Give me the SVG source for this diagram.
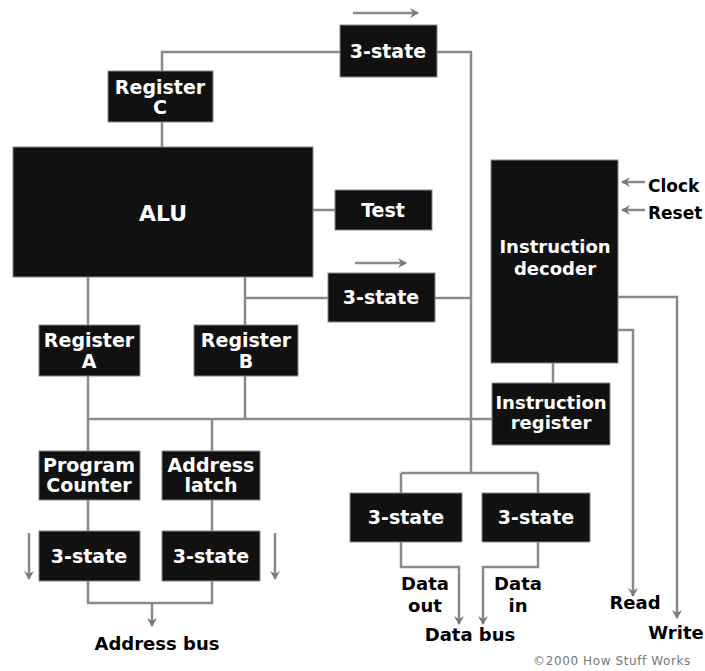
<svg xmlns="http://www.w3.org/2000/svg" width="705" height="671" viewBox="0 0 705 671">
<style>
.box{fill:#111;stroke:#888;stroke-width:1}
.bt{fill:#fff;font-family:"DejaVu Sans","Liberation Sans",Arial,sans-serif;font-weight:bold;font-size:19px;text-anchor:middle}
.lbl{fill:#000;font-family:"DejaVu Sans","Liberation Sans",Arial,sans-serif;font-weight:bold;font-size:18px;text-anchor:middle}
.ln{fill:none;stroke:#8a8a8a;stroke-width:2.5}
.ar{fill:none;stroke:#8a8a8a;stroke-width:2.5;marker-end:url(#ah)}
</style>
<defs>
<marker id="ah" markerUnits="userSpaceOnUse" markerWidth="12" markerHeight="12" refX="9" refY="6" orient="auto">
<path d="M1,1 L10,6 L1,11 L4,6 Z" fill="#7a7a7a"/>
</marker>
</defs>
<rect width="705" height="671" fill="#fff"/>
<g id="connectors">
<path class="ln" d="M162,71 V52 H340"/>
<path class="ln" d="M437,52 H471 V473"/>
<path class="ln" d="M162,122 V147"/>
<path class="ln" d="M313,210 H335"/>
<path class="ln" d="M245,298 H328"/>
<path class="ln" d="M435,298 H471"/>
<path class="ln" d="M88,277 V325"/>
<path class="ln" d="M245,277 V325"/>
<path class="ln" d="M88,376 V451"/>
<path class="ln" d="M245,376 V419"/>
<path class="ln" d="M88,419 H492"/>
<path class="ln" d="M212,419 V451"/>
<path class="ln" d="M88,500 V531"/>
<path class="ln" d="M212,500 V531"/>
<path class="ln" d="M88,581 V603 H212 V581"/>
<path class="ar" d="M152,603 V626"/>
<path class="ar" d="M29,533 V579"/>
<path class="ar" d="M275,533 V579"/>
<path class="ar" d="M353,13 H418"/>
<path class="ar" d="M355,263 H406"/>
<path class="ar" d="M645,182 H622"/>
<path class="ar" d="M645,210 H622"/>
<path class="ar" d="M618,297 H677 V618"/>
<path class="ar" d="M618,330 H633 V596"/>
<path class="ln" d="M553,363 V383"/>
<path class="ln" d="M401,473 H538"/>
<path class="ln" d="M401,473 V493"/>
<path class="ln" d="M538,473 V493"/>
<path class="ar" d="M401,542 V567 H459 V624"/>
<path class="ar" d="M538,542 V567 H483 V624"/>
</g>
<g id="tristate-top"><rect class="box" x="340" y="25" width="97" height="52"/><text class="bt" x="388" y="58">3-state</text></g>
<g id="register-c"><rect class="box" x="108" y="71" width="105" height="51"/><text class="bt" x="160" y="94">Register</text><text class="bt" x="160" y="114">C</text></g>
<g id="alu"><rect class="box" x="13" y="147" width="300" height="130"/><text class="bt" x="163" y="221" style="font-size:22px">ALU</text></g>
<g id="test"><rect class="box" x="335" y="190" width="97" height="40"/><text class="bt" x="383" y="217">Test</text></g>
<g id="tristate-mid"><rect class="box" x="328" y="273" width="107" height="49"/><text class="bt" x="381" y="304">3-state</text></g>
<g id="register-a"><rect class="box" x="39" y="325" width="101" height="51"/><text class="bt" x="89" y="347">Register</text><text class="bt" x="89" y="368">A</text></g>
<g id="register-b"><rect class="box" x="194" y="325" width="104" height="51"/><text class="bt" x="246" y="347">Register</text><text class="bt" x="246" y="368">B</text></g>
<g id="program-counter"><rect class="box" x="39" y="451" width="101" height="49"/><text class="bt" x="89" y="472">Program</text><text class="bt" x="89" y="492">Counter</text></g>
<g id="address-latch"><rect class="box" x="162" y="451" width="98" height="49"/><text class="bt" x="211" y="472">Address</text><text class="bt" x="211" y="492">latch</text></g>
<g id="tristate-pc"><rect class="box" x="39" y="531" width="101" height="50"/><text class="bt" x="89" y="563">3-state</text></g>
<g id="tristate-latch"><rect class="box" x="162" y="531" width="98" height="50"/><text class="bt" x="211" y="563">3-state</text></g>
<g id="instruction-decoder"><rect class="box" x="491" y="160" width="127" height="203"/><text class="bt" x="555" y="253" style="font-size:18px">Instruction</text><text class="bt" x="555" y="275" style="font-size:18px">decoder</text></g>
<g id="instruction-register"><rect class="box" x="492" y="383" width="118" height="62"/><text class="bt" x="551" y="409" style="font-size:18px">Instruction</text><text class="bt" x="551" y="429" style="font-size:18px">register</text></g>
<g id="tristate-out"><rect class="box" x="350" y="493" width="112" height="49"/><text class="bt" x="406" y="524">3-state</text></g>
<g id="tristate-in"><rect class="box" x="482" y="493" width="108" height="49"/><text class="bt" x="536" y="524">3-state</text></g>
<g id="labels">
<text class="lbl" x="157" y="650">Address bus</text>
<text class="lbl" x="425" y="590">Data</text>
<text class="lbl" x="425" y="612">out</text>
<text class="lbl" x="518" y="590">Data</text>
<text class="lbl" x="518" y="612">in</text>
<text class="lbl" x="470" y="641">Data bus</text>
<text class="lbl" x="635" y="609">Read</text>
<text class="lbl" x="676" y="639">Write</text>
<text class="lbl" x="648" y="192" style="text-anchor:start;font-size:17px">Clock</text>
<text class="lbl" x="648" y="219" style="text-anchor:start;font-size:17px">Reset</text>
<text x="612" y="665" style="fill:#777;font-family:'DejaVu Sans','Liberation Sans',Arial,sans-serif;font-size:12px;letter-spacing:0.6px;text-anchor:middle">©2000 How Stuff Works</text>
</g>
</svg>
